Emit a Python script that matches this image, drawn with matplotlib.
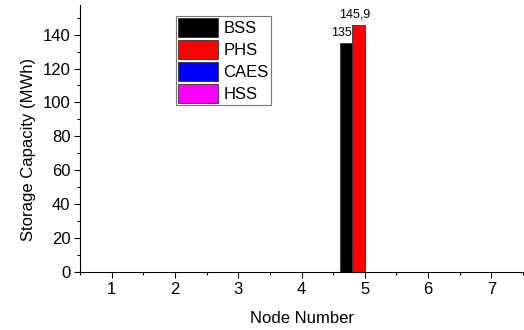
import matplotlib
matplotlib.use("Agg")
import matplotlib.pyplot as plt
import numpy as np
from matplotlib.ticker import MultipleLocator

plt.rcParams['font.family'] = ['Liberation Sans', 'DejaVu Sans']

nodes = [1, 2, 3, 4, 5, 6, 7]
series = ["BSS", "PHS", "CAES", "HSS"]
bss = [0, 0, 0, 0, 135, 0, 0]
phs = [0, 0, 0, 0, 145.9, 0, 0]
caes = [0, 0, 0, 0, 0, 0, 0]
hss = [0, 0, 0, 0, 0, 0, 0]
colors = ["#000000", "#ff0000", "#0000ff", "#ff00ff"]
labels_text = {("BSS", 5): "135", ("PHS", 5): "145,9"}

fig = plt.figure(figsize=(5.24, 3.3), dpi=100)
ax = fig.add_axes([0.153, 0.176, 0.845, 0.809])

x = np.array(nodes, dtype=float)
w = 0.2
data = [bss, phs, caes, hss]
for i, (name, vals, c) in enumerate(zip(series, data, colors)):
    off = (i - 1.5) * w
    ax.bar(x + off, vals, width=w, color=c, edgecolor="#333333", linewidth=0.6, label=name)
    for xi, v in zip(nodes, vals):
        if (name, xi) in labels_text:
            ax.annotate(labels_text[(name, xi)], (xi + off, v), xytext=(-3, 3),
                        textcoords="offset points", ha="center", va="bottom", fontsize=9)

ax.set_xlim(0.5, 7.5)
ax.set_ylim(0, 157.5)
ax.set_xticks(nodes)
ax.yaxis.set_major_locator(MultipleLocator(20))
ax.yaxis.set_minor_locator(MultipleLocator(10))
ax.xaxis.set_minor_locator(MultipleLocator(0.5))
ax.spines['top'].set_visible(False)
ax.spines['right'].set_visible(False)
ax.tick_params(which='major', direction='out', length=4, width=0.8, labelsize=12, pad=3)
ax.tick_params(which='minor', direction='out', length=2, width=0.8)
ax.set_xlabel("Node Number", fontsize=12, labelpad=10)
ax.set_ylabel("Storage Capacity (MWh)", fontsize=12)
ax.yaxis.set_label_coords(-0.1, 0.46)

leg = ax.legend(loc="upper left", bbox_to_anchor=(0.216, 0.96), fontsize=12,
                handlelength=2.4, handleheight=1.35, labelspacing=0.2,
                handletextpad=0.3, borderpad=0.15, fancybox=False, framealpha=1,
                edgecolor="#777777", borderaxespad=0)
leg.get_frame().set_linewidth(0.8)

fig.savefig("out.png", dpi=100)
